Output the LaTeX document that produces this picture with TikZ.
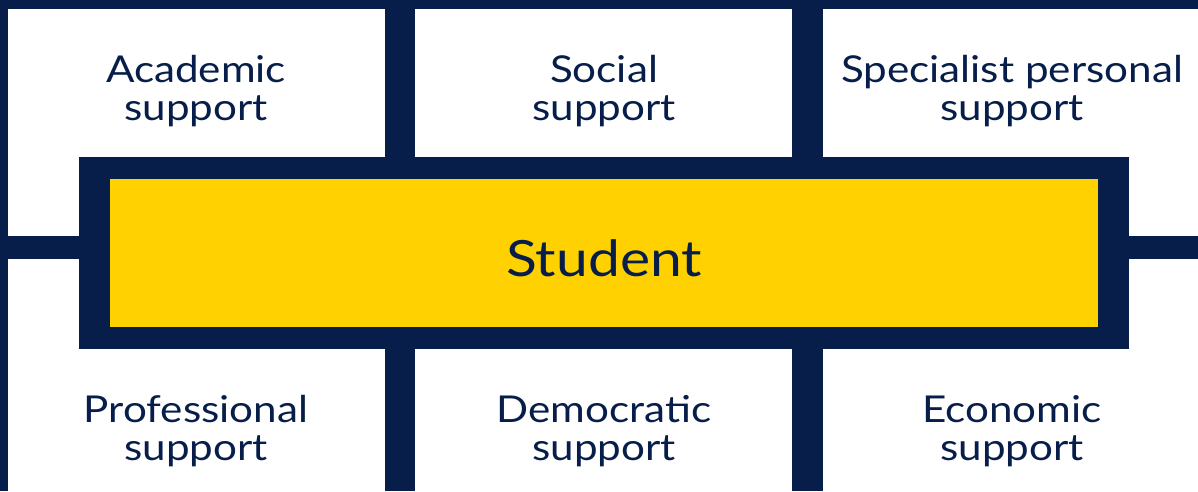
\documentclass[tikz,border=0pt]{standalone}
\usepackage{fontspec}
\setmainfont[FakeStretch=1.14]{Lato}
\definecolor{navy}{HTML}{071E4A}
\definecolor{gold}{HTML}{FFD100}
\begin{document}
\begin{tikzpicture}[x=1pt,y=-1pt,
  panel/.style={fill=white,draw=none},
  lbl/.style={text=navy,align=center,inner sep=0pt,font=\fontsize{37}{38}\selectfont},
  big/.style={text=navy,inner sep=0pt,font=\fontsize{50}{52}\selectfont}]
\useasboundingbox (0,0) rectangle (1198,491);
\fill[navy] (0,0) rectangle (1198,491);
\fill[panel] (8,9) rectangle (385,236);
\fill[panel] (415,9) rectangle (792,157);
\fill[panel] (823,9) rectangle (1198,236);
\fill[panel] (8,259) rectangle (385,491);
\fill[panel] (415,349) rectangle (792,491);
\fill[panel] (823,259) rectangle (1198,491);
\node[fill=navy,minimum width=1050pt,minimum height=192pt,inner sep=0pt] (frame) at (604,253) {};
\node[fill=gold,minimum width=988pt,minimum height=148pt,inner sep=0pt] (core) at (604,253) {};
\node[big,anchor=base] (student) at (604,276) {Student};
\node[lbl,anchor=base] (a1) at (196,82) {Academic};
\node[lbl,anchor=base] (a2) at (196,120) {support};
\node[lbl,anchor=base] (s1) at (604,82) {Social};
\node[lbl,anchor=base] (s2) at (604,120) {support};
\node[lbl,anchor=base] (p1) at (1012,82) {Specialist personal};
\node[lbl,anchor=base] (p2) at (1012,120) {support};
\node[lbl,anchor=base] (r1) at (196,422) {Professional};
\node[lbl,anchor=base] (r2) at (196,460) {support};
\node[lbl,anchor=base] (d1) at (604,422) {Democratic};
\node[lbl,anchor=base] (d2) at (604,460) {support};
\node[lbl,anchor=base] (e1) at (1012,422) {Economic};
\node[lbl,anchor=base] (e2) at (1012,460) {support};
\end{tikzpicture}
\end{document}
